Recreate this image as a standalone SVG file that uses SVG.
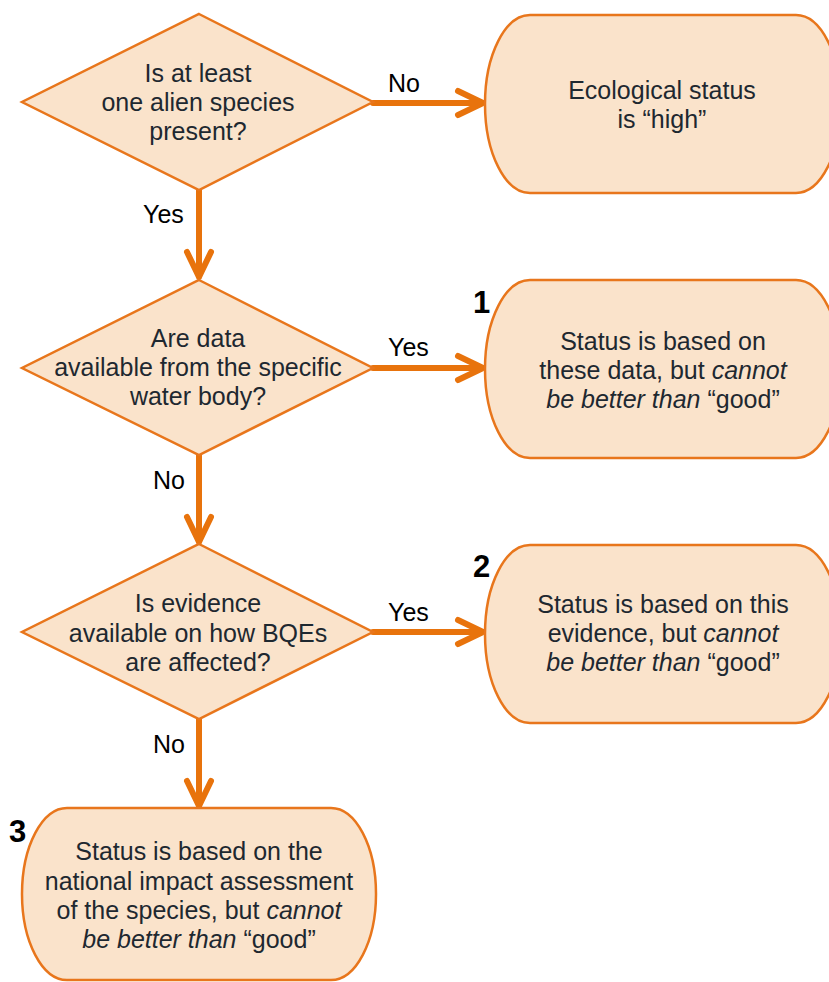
<svg xmlns="http://www.w3.org/2000/svg" width="829" height="982" viewBox="0 0 829 982">
<style>
.shape{fill:#fae3cb;stroke:#e8761c;stroke-width:2.5}
.t{font-family:"Liberation Sans",Arial,sans-serif;font-size:25px;fill:#1e2830;text-anchor:middle}
.lbl{font-family:"Liberation Sans",Arial,sans-serif;font-size:25px;fill:#000}
.num{font-family:"Liberation Sans",Arial,sans-serif;font-size:31px;font-weight:bold;fill:#000}
.c{fill:none;stroke:#e8730c;stroke-width:6;stroke-linecap:round;stroke-linejoin:round}
.i{font-style:italic}
</style>
<rect width="829" height="982" fill="#fff"/>
<g id="connectors">
<path class="c" d="M373,103 H483 M458,91 L483,103 L458,115"/>
<path class="c" d="M199,190 V277 M187,252 L199,277 L211,252"/>
<path class="c" d="M373,368 H483 M458,356 L483,368 L458,380"/>
<path class="c" d="M199,455 V542 M187,517 L199,542 L211,517"/>
<path class="c" d="M373,632 H483 M458,620 L483,632 L458,644"/>
<path class="c" d="M199,719 V806 M187,781 L199,806 L211,781"/>
<text class="lbl" x="388" y="92">No</text>
<text class="lbl" x="143" y="223">Yes</text>
<text class="lbl" x="388" y="356">Yes</text>
<text class="lbl" x="153" y="489">No</text>
<text class="lbl" x="388" y="621">Yes</text>
<text class="lbl" x="153" y="753">No</text>
</g>
<g id="q1">
<polygon class="shape" points="199,14 373,102 199,190 22,102"/>
<text class="t" x="198" y="82">Is at least</text>
<text class="t" x="198" y="111">one alien species</text>
<text class="t" x="198" y="140">present?</text>
</g>
<g id="high">
<rect class="shape" x="485" y="15" width="356" height="178" rx="45" ry="89"/>
<text class="t" x="662" y="99">Ecological status</text>
<text class="t" x="662" y="128">is “high”</text>
</g>
<g id="q2">
<polygon class="shape" points="199,280 373,368 199,455 22,368"/>
<text class="t" x="198" y="347">Are data</text>
<text class="t" x="198" y="376">available from the specific</text>
<text class="t" x="198" y="405">water body?</text>
</g>
<g id="r1">
<rect class="shape" x="485" y="280" width="356" height="178" rx="45" ry="89"/>
<text class="num" x="473" y="313">1</text>
<text class="t" x="663" y="350">Status is based on</text>
<text class="t" x="663" y="379">these data, but <tspan class="i">cannot</tspan></text>
<text class="t" x="663" y="408"><tspan class="i">be better than</tspan> “good”</text>
</g>
<g id="q3">
<polygon class="shape" points="199,544 373,632 199,719 22,632"/>
<text class="t" x="198" y="612">Is evidence</text>
<text class="t" x="198" y="642">available on how BQEs</text>
<text class="t" x="198" y="671">are affected?</text>
</g>
<g id="r2">
<rect class="shape" x="485" y="545" width="356" height="178" rx="45" ry="89"/>
<text class="num" x="473" y="577">2</text>
<text class="t" x="663" y="613">Status is based on this</text>
<text class="t" x="663" y="642">evidence, but <tspan class="i">cannot</tspan></text>
<text class="t" x="663" y="671"><tspan class="i">be better than</tspan> “good”</text>
</g>
<g id="r3">
<rect class="shape" x="22" y="808" width="354" height="172" rx="45" ry="86"/>
<text class="num" x="9" y="842">3</text>
<text class="t" x="199" y="860">Status is based on the</text>
<text class="t" x="199" y="890">national impact assessment</text>
<text class="t" x="199" y="919">of the species, but <tspan class="i">cannot</tspan></text>
<text class="t" x="199" y="948"><tspan class="i">be better than</tspan> “good”</text>
</g>
</svg>
